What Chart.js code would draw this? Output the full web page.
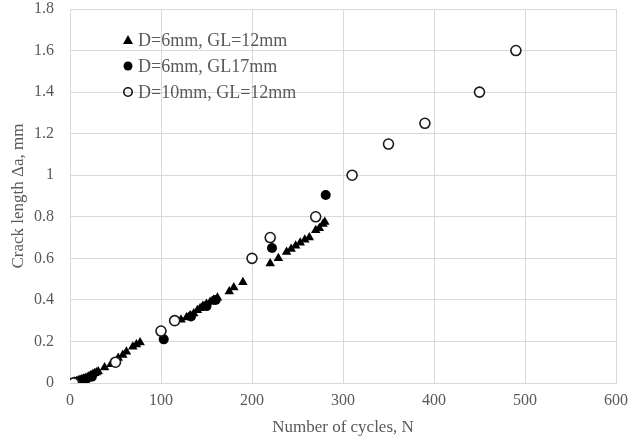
<!DOCTYPE html>
<html>
<head>
<meta charset="utf-8">
<script src="https://cdn.jsdelivr.net/npm/chart.js@4/dist/chart.umd.min.js"></script>
<style>
	body { margin: 0; background: #fff; }
	#wrap { width: 636px; height: 441px; }
</style>
</head>
<body>
<div id="wrap"><canvas id="chart" width="636" height="441"></canvas></div>
<script>
	'use strict';

	// D=6mm, GL=12mm (filled triangles)
	var triCycles = [1, 3, 5, 7, 9, 11, 13, 15, 17, 19, 21, 23, 25, 27, 29, 31, 38, 45, 53, 58, 62, 69, 73, 77,
		122, 128, 132, 136, 140, 143, 146, 150, 154, 158, 162, 175, 180, 190,
		220, 229, 238, 243, 248, 253, 258, 263, 270, 274, 278, 280];
	var triCrack = [0, 0.003, 0.006, 0.009, 0.012, 0.015, 0.018, 0.02, 0.023, 0.027, 0.032, 0.037, 0.042, 0.047, 0.05, 0.055, 0.075, 0.09, 0.12, 0.135, 0.15, 0.175, 0.185, 0.195,
		0.305, 0.315, 0.325, 0.335, 0.35, 0.36, 0.37, 0.38, 0.39, 0.4, 0.41, 0.44, 0.46, 0.485,
		0.575, 0.6, 0.63, 0.645, 0.66, 0.675, 0.69, 0.7, 0.735, 0.745, 0.765, 0.775];

	// D=6mm, GL17mm (filled circles)
	var dotCycles = [2, 6, 12, 18, 24, 103, 133, 150, 160, 222, 281];
	var dotCrack = [0, 0.005, 0.012, 0.02, 0.03, 0.21, 0.32, 0.37, 0.4, 0.65, 0.905];

	// D=10mm, GL=12mm (open circles)
	var ringCycles = [4, 50, 100, 115, 200, 220, 270, 310, 350, 390, 450, 490];
	var ringCrack = [0, 0.1, 0.25, 0.3, 0.6, 0.7, 0.8, 1.0, 1.15, 1.25, 1.4, 1.6];

	var seriesLabels = ['D=6mm, GL=12mm', 'D=6mm, GL17mm', 'D=10mm, GL=12mm'];

	var textColor = '#595959';
	var gridColor = '#d9d9d9';
	var fontFamily = '"Liberation Serif", "Times New Roman", serif';

	function toPoints(xs, ys) {
		var pts = [];
		for (var i = 0; i < xs.length; i++) {
			pts.push({x: xs[i], y: ys[i]});
		}
		return pts;
	}

	// legend sits inside the plot, top left, like the original
	var insideLegend = {
		id: 'insideLegend',
		afterDraw: function (chart) {
			var ctx = chart.ctx,
				x = 128,
				rows = [40, 66, 92];

			ctx.save();
			ctx.fillStyle = '#000';
			ctx.strokeStyle = '#111';
			ctx.lineWidth = 1.6;

			ctx.beginPath();
			ctx.moveTo(x, rows[0] - 5);
			ctx.lineTo(x + 5, rows[0] + 4);
			ctx.lineTo(x - 5, rows[0] + 4);
			ctx.closePath();
			ctx.fill();

			ctx.beginPath();
			ctx.arc(x, rows[1], 4.5, 0, Math.PI * 2);
			ctx.fill();

			ctx.beginPath();
			ctx.arc(x, rows[2], 4.2, 0, Math.PI * 2);
			ctx.stroke();

			ctx.fillStyle = textColor;
			ctx.font = '18px ' + fontFamily;
			ctx.textBaseline = 'middle';
			ctx.textAlign = 'left';
			for (var i = 0; i < seriesLabels.length; i++) {
				ctx.fillText(seriesLabels[i], x + 10, rows[i] + 1);
			}
			ctx.restore();
		}
	};

	new Chart(document.getElementById('chart'), {
		type: 'scatter',
		data: {
			datasets: [{
				label: seriesLabels[0],
				data: toPoints(triCycles, triCrack),
				pointStyle: 'triangle',
				pointRadius: 5.5,
				backgroundColor: '#000',
				borderColor: '#000',
				borderWidth: 0,
				order: 2
			}, {
				label: seriesLabels[1],
				data: toPoints(dotCycles, dotCrack),
				pointStyle: 'circle',
				pointRadius: 5,
				backgroundColor: '#000',
				borderColor: '#000',
				borderWidth: 0,
				order: 1
			}, {
				label: seriesLabels[2],
				data: toPoints(ringCycles, ringCrack),
				pointStyle: 'circle',
				pointRadius: 5,
				backgroundColor: '#fff',
				borderColor: '#1a1a1a',
				borderWidth: 1.6,
				order: 0
			}]
		},
		options: {
			responsive: false,
			animation: false,
			devicePixelRatio: 1,
			layout: {padding: {top: 0, right: 19, left: 0, bottom: 0}},
			plugins: {
				legend: {display: false},
				tooltip: {enabled: false}
			},
			scales: {
				x: {
					type: 'linear',
					min: 0,
					max: 600,
					ticks: {stepSize: 100, color: textColor, font: {family: fontFamily, size: 16}, padding: 8, maxRotation: 0},
					grid: {color: gridColor, drawTicks: false},
					border: {color: gridColor},
					title: {display: true, text: 'Number of cycles, N', color: textColor, font: {family: fontFamily, size: 17}, padding: {top: 4, bottom: 3}},
					afterFit: function (scale) { scale.height = 58; }
				},
				y: {
					min: 0,
					max: 1.8,
					ticks: {
						stepSize: 0.2,
						color: textColor,
						font: {family: fontFamily, size: 16},
						padding: 16,
						callback: function (v) { return String(Number(v.toFixed(1))); }
					},
					grid: {color: gridColor, drawTicks: false},
					border: {color: gridColor},
					title: {display: true, text: 'Crack length Δa, mm', color: textColor, font: {family: fontFamily, size: 17}, padding: {top: 8, bottom: 4}},
					afterFit: function (scale) {
						scale.width = 70;
						scale.paddingTop = 9;
						scale.paddingBottom = 0;
					}
				}
			}
		},
		plugins: [insideLegend]
	});
</script>
</body>
</html>
